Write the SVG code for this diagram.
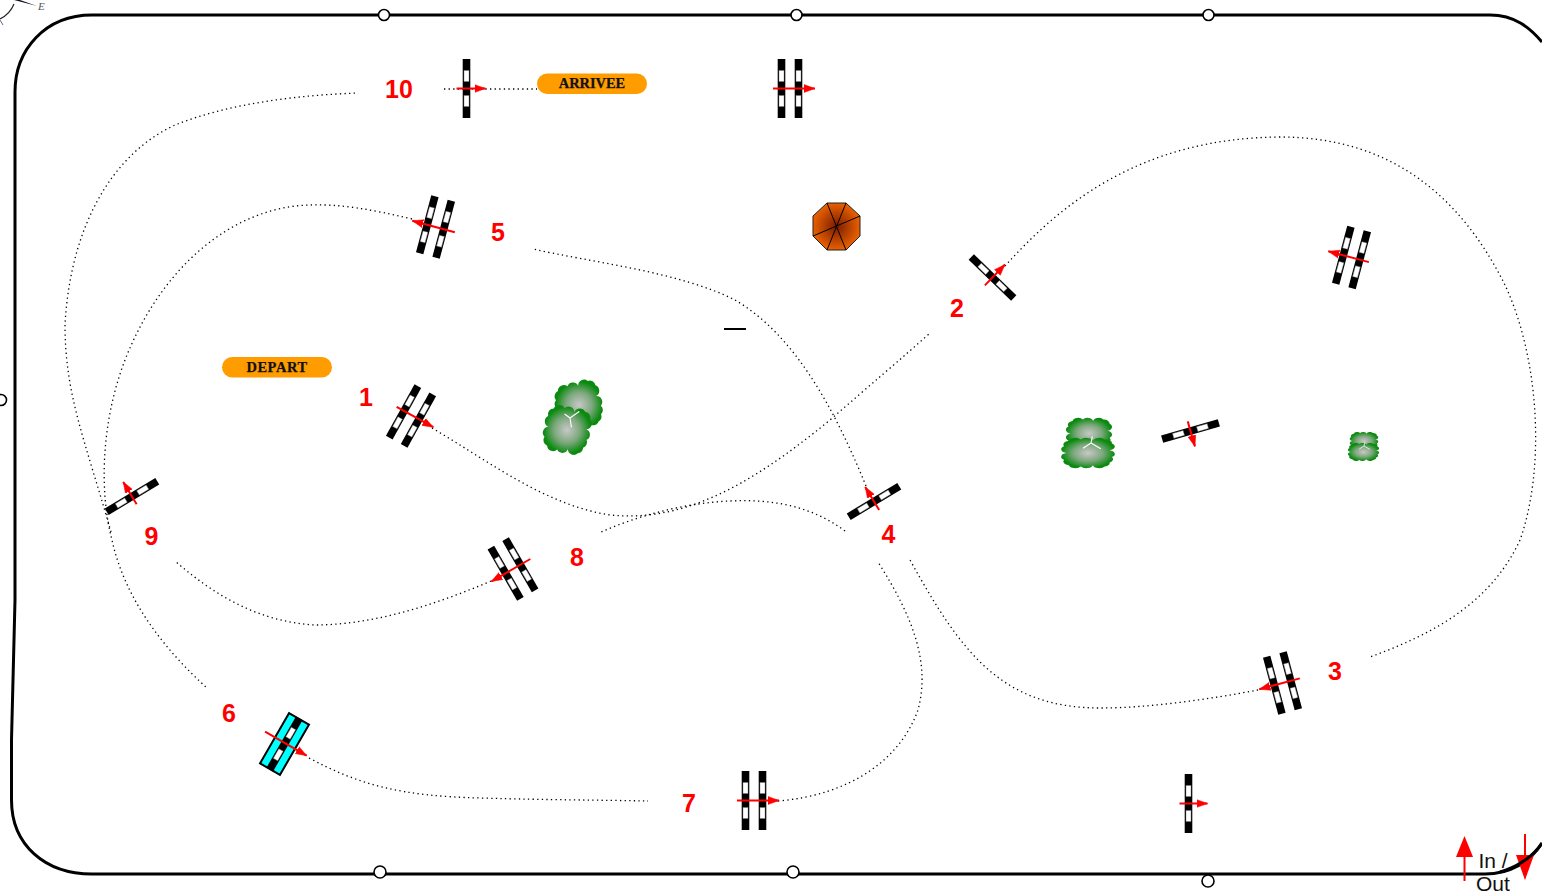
<svg xmlns="http://www.w3.org/2000/svg" width="1542" height="892" viewBox="0 0 1542 892">
<style>
.border{fill:none;stroke:#000;stroke-width:3}
.post{fill:#fff;stroke:#000;stroke-width:1.6}
.dot{fill:none;stroke:#000;stroke-width:1.300;stroke-dasharray:1.300 3.300}
.num{font:bold 25px "Liberation Sans",Arial,sans-serif;fill:#f00;text-anchor:middle}
.pill{fill:#ff9c00}
.pilltext{font:bold 14.400px "Liberation Serif","Times New Roman",serif;fill:#111;stroke:#111;stroke-width:.25;text-anchor:middle}
.arrow{stroke:#f00;stroke-width:2;fill:none;marker-end:url(#head)}
.bar{fill:#000}
.win{fill:#fff;stroke:#777;stroke-width:.4}
.spoke{stroke:#000;stroke-width:1;fill:none}
.vein{stroke:#fff;stroke-width:1.100;fill:none}
.io{font:21px "Liberation Sans",Arial,sans-serif;fill:#111}
</style>
<defs>
<marker id="head" markerUnits="userSpaceOnUse" markerWidth="12" markerHeight="10" refX="11" refY="5" orient="auto"><path d="M0 1 L11 5 L0 9 Z" fill="#f00" stroke="#f00" stroke-width="0.5"/></marker>
<radialGradient id="umb"><stop offset="0" stop-color="#7a1c00"/><stop offset="1" stop-color="#e86000"/></radialGradient>
<radialGradient id="leaf"><stop offset="0" stop-color="#c8c8c8"/><stop offset="0.55" stop-color="#7da87d"/><stop offset="1" stop-color="#0a8a0f"/></radialGradient>
<g id="bar1"><rect class="bar" x="-3.800" y="-29.500" width="7.600" height="59"/><rect class="win" x="-2.500" y="-18" width="5" height="11"/><rect class="win" x="-2.500" y="7" width="5" height="11"/></g>
<g id="single"><use href="#bar1"/></g>
<g id="double"><use href="#bar1" x="-8.500"/><use href="#bar1" x="8.500"/></g>
<path id="lobe" fill="url(#leaf)" d="M-16 -18A5.600 5.600 0 0 1 -6 -20A5.600 5.600 0 0 1 4 -18A5.600 5.600 0 0 1 14 -20A5.600 5.600 0 0 1 20 -14A5.600 5.600 0 0 1 18 -4A5.600 5.600 0 0 1 20 6A5.600 5.600 0 0 1 18 14A5.600 5.600 0 0 1 14 20A5.600 5.600 0 0 1 4 18A5.600 5.600 0 0 1 -6 20A5.600 5.600 0 0 1 -16 18A5.600 5.600 0 0 1 -20 10A5.600 5.600 0 0 1 -18 0A5.600 5.600 0 0 1 -20 -10A5.600 5.600 0 0 1 -16 -18Z"/>
<g id="veins"><path class="vein" d="M0 0L8 -8M0 0L3 9M0 0L-6 -3"/></g>
</defs>

<g id="compass">
<path d="M14 0L37 6L20 0Z" fill="#112"/>
<path d="M14 4Q10 14 0 19" fill="none" stroke="#222" stroke-width="1.200"/>
<path d="M0 20L3 25" fill="none" stroke="#668" stroke-width="1"/>
<text x="38" y="10" font-family="Liberation Serif,serif" font-style="italic" font-size="11" fill="#555">E</text>
</g>

<g id="track-border">
<path class="border" d="M92 15L975 15L1490 15C1515 15 1530 28 1542 42"/>
<path class="border" d="M92 15C45 15 15 50 15 92L15 600L11.500 740L11.500 800C11.500 845 45 874 92 874L1485 874C1510 874 1530 862 1542 843"/>
</g>

<g id="connectors">
<path class="dot" d="M432 428C490 462 545 505 610 515C680 522 745 490 830 420C870 385 900 360 930 333"/>
<path class="dot" d="M1005 266C1060 205 1140 138 1280 137C1390 137 1460 195 1505 285C1540 360 1545 470 1520 540C1490 605 1430 635 1370 657"/>
<path class="dot" d="M1258 690C1210 699 1150 708 1100 708C1000 708 960 650 910 560"/>
<path class="dot" d="M866 486C835 410 795 335 735 300C680 272 590 262 533 249"/>
<path class="dot" d="M412 219C370 209 340 204 310 205C230 207 160 270 125 360C100 425 100 495 112 540C125 600 165 650 207 688"/>
<path class="dot" d="M309 758C360 785 400 796 480 798C550 800 600 800 648 801"/>
<path class="dot" d="M778 801C850 795 900 760 918 710C930 665 915 620 878 562"/>
<path class="dot" d="M845 531C810 505 770 499 730 501C685 503 640 515 601 532"/>
<path class="dot" d="M491 581C430 607 370 625 315 625C260 622 215 596 175 561"/>
<path class="dot" d="M111 532C85 440 65 395 65 325C70 230 110 155 175 125C230 103 300 95 358 93"/>
<path class="dot" d="M444 89L537 89"/>
</g>

<g id="posts">
<circle class="post" cx="384" cy="15" r="5.500"/><circle class="post" cx="796.500" cy="15" r="5.500"/><circle class="post" cx="1208.500" cy="15" r="5.500"/>
<circle class="post" cx="1" cy="400" r="5.500"/>
<circle class="post" cx="380" cy="872" r="6"/><circle class="post" cx="793" cy="872" r="6"/><circle class="post" cx="1208" cy="881" r="6"/>
</g>

<g id="n10" transform="translate(466.500 88.500)"><use href="#single"/><path class="arrow" d="M-10 0H19"/></g>
<text id="l10" class="num" x="399" y="98">10</text>
<g id="arrivee"><rect class="pill" x="537" y="73.500" width="110" height="20.500" rx="10.200"/><text class="pilltext" x="592" y="88">ARRIVEE</text></g>
<g id="top-gate" transform="translate(790 88.500)"><use href="#double"/><path class="arrow" d="M-17 0H25"/></g>

<g id="n5" transform="translate(435.500 227) rotate(15)"><use href="#double"/><path class="arrow" d="M-20 0H24" transform="rotate(180)"/></g>
<text id="l5" class="num" x="498" y="241">5</text>

<g id="umbrella">
<path d="M827 203H846L860 216V236L846 250H827L813 236V216Z" fill="url(#umb)" stroke="#222" stroke-width="1"/>
<path class="spoke" d="M827 203L846 250M846 203L827 250M860 216L813 236"/>
</g>

<path id="dash" d="M724 329H746" stroke="#000" stroke-width="2" fill="none"/>

<g id="n2" transform="translate(992.500 277.500) rotate(-46)"><use href="#single"/><path class="arrow" d="M-11 0H18"/></g>
<text id="l2" class="num" x="957" y="317">2</text>

<g id="top-right-gate" transform="translate(1351.500 257.500) rotate(15)"><use href="#double"/><path class="arrow" d="M-18 0H24" transform="rotate(180)"/></g>

<g id="depart"><rect class="pill" x="222" y="357" width="110" height="20.500" rx="10.200"/><text class="pilltext" x="277" y="372" letter-spacing=".6">DEPART</text></g>

<g id="n1" transform="translate(411 416) rotate(29)"><use href="#double"/><path class="arrow" d="M-17 -1H25"/></g>
<text id="l1" class="num" x="366" y="406">1</text>

<g id="tree1">
<use href="#lobe" transform="translate(579 405) rotate(-15) scale(1.050 1.050)"/>
<use href="#lobe" transform="translate(567 430) rotate(10) scale(1.050 1.050)"/>
<use href="#veins" transform="translate(570 418) rotate(10)"/>
</g>
<g id="tree2">
<use href="#lobe" transform="translate(1089 433.500) scale(1.030 .700)"/>
<use href="#lobe" transform="translate(1088 453) scale(1.200 .680)"/>
<use href="#veins" transform="translate(1091 443) rotate(75)"/>
</g>
<g id="tree3">
<use href="#lobe" transform="translate(1364 441) scale(.640 .400)"/>
<use href="#lobe" transform="translate(1363.500 452) scale(.700 .400)"/>
<use href="#veins" transform="translate(1364 446) rotate(75) scale(.600)"/>
</g>

<g id="center-gate" transform="translate(1190.500 431) rotate(74)"><use href="#single"/><path class="arrow" d="M-10 0H16"/></g>

<g id="n4" transform="translate(874 501.500) rotate(59)"><use href="#single"/><path class="arrow" d="M-10 0H17" transform="rotate(180)"/></g>
<text id="l4" class="num" x="888.500" y="543">4</text>

<g id="n9" transform="translate(132 496.500) rotate(59)"><use href="#single"/><path class="arrow" d="M-9 0H17" transform="rotate(180)"/></g>
<text id="l9" class="num" x="151.500" y="545">9</text>

<g id="n8" transform="translate(513 569) rotate(-30)"><use href="#double"/><path class="arrow" d="M-20 0H25" transform="rotate(180)"/></g>
<text id="l8" class="num" x="577" y="566">8</text>

<g id="n3" transform="translate(1282.500 683) rotate(-15)"><use href="#double"/><path class="arrow" d="M-18 0H24" transform="rotate(180)"/></g>
<text id="l3" class="num" x="1335" y="680">3</text>

<g id="n6" transform="translate(284.500 744) rotate(30)"><rect x="-11.500" y="-29" width="23" height="58" fill="#00ffff" stroke="#000" stroke-width="2"/><use href="#single"/><path class="arrow" d="M-23 -1H25"/></g>
<text id="l6" class="num" x="229" y="722">6</text>

<g id="n7" transform="translate(754 800.500)"><use href="#double"/><path class="arrow" d="M-17 0H25"/></g>
<text id="l7" class="num" x="689" y="812">7</text>

<g id="bottom-gate" transform="translate(1188.500 803.500)"><use href="#single"/><path class="arrow" d="M-9 0H19"/></g>

<g id="in-out">
<path d="M1464.500 857V881" stroke="#f00" stroke-width="2" fill="none"/>
<path d="M1456 857L1464.500 836L1473 857Z" fill="#f00"/>
<path d="M1525 834V856" stroke="#f00" stroke-width="2" fill="none"/>
<path d="M1516 855L1534 855L1525 880Z" fill="#f00"/>
<path d="M1500 872C1515 868 1532 858 1542 843" stroke="#000" stroke-width="3" fill="none"/>
<text class="io" x="1478.500" y="867.500">In /</text>
<text class="io" x="1476" y="891">Out</text>
</g>
</svg>
